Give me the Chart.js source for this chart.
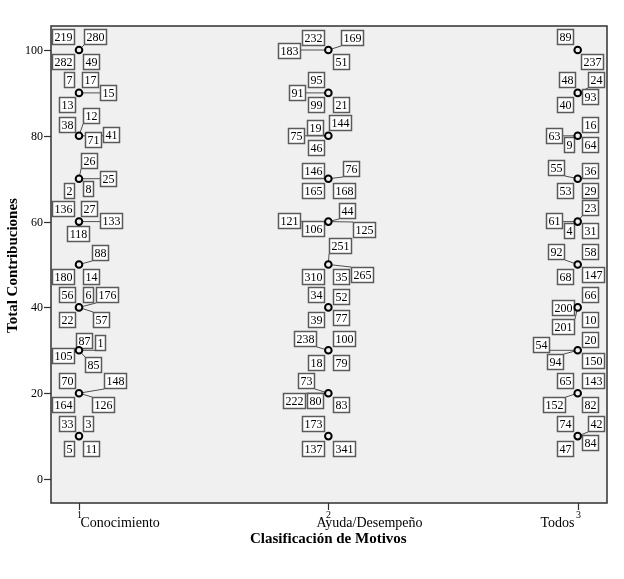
<!DOCTYPE html>
<html><head><meta charset="utf-8">
<script src="https://cdn.jsdelivr.net/npm/chart.js@4/dist/chart.umd.min.js"></script>
<style>html,body{margin:0;padding:0;background:#fff}canvas{display:block}</style>
</head><body>
<canvas id="c" width="624" height="579"></canvas>
<script>
// ---------- DATA ----------
const categories = ['Conocimiento', 'Ayuda/Desempeño', 'Todos'];
const categoryCodes = [1, 2, 3];
const yTickValues = [0, 20, 40, 60, 80, 100];
const xTitle = 'Clasificación de Motivos';
const yTitle = 'Total Contribuciones';

const conocimientoValues = [100, 90, 80, 70, 60, 50, 40, 30, 20, 10];
const ayudaValues = [100, 90, 80, 70, 60, 50, 40, 30, 20, 10];
const todosValues = [100, 90, 80, 70, 60, 50, 40, 30, 20, 10];

const conocimientoCases = [
  ['219', '280', '282', '49'],
  ['7', '17', '15', '13'],
  ['12', '38', '41', '71'],
  ['26', '25', '8', '2'],
  ['136', '27', '133', '118'],
  ['88', '180', '14'],
  ['56', '6', '176', '22', '57'],
  ['87', '1', '105', '85'],
  ['70', '148', '164', '126'],
  ['33', '3', '5', '11']
];
const ayudaCases = [
  ['232', '183', '169', '51'],
  ['95', '91', '99', '21'],
  ['144', '19', '75', '46'],
  ['146', '76', '165', '168'],
  ['44', '121', '106', '125'],
  ['251', '310', '35', '265'],
  ['34', '52', '39', '77'],
  ['238', '100', '18', '79'],
  ['73', '222', '80', '83'],
  ['173', '137', '341']
];
const todosCases = [
  ['89', '237'],
  ['48', '24', '93', '40'],
  ['16', '63', '9', '64'],
  ['55', '36', '53', '29'],
  ['23', '61', '4', '31'],
  ['92', '58', '68', '147'],
  ['66', '200', '10', '201'],
  ['20', '54', '94', '150'],
  ['65', '143', '152', '82'],
  ['74', '42', '84', '47']
];

// ---------- LAYOUT (label box offsets from their point, px) ----------
const labelOffsets = {
  '219':[-15.5,-12.5],'280':[16,-12.5],'282':[-15.5,12],'49':[12,12],
  '7':[-9.5,-13],'17':[11,-13],'15':[29,0],'13':[-12,12],
  '12':[12,-20],'38':[-12,-11],'41':[32,-1],'71':[14,4],
  '26':[10,-17.5],'25':[29,0],'8':[9,10.5],'2':[-9.5,12],
  '136':[-15.5,-12.5],'27':[10,-12.5],'133':[32,-0.5],'118':[-1,12],
  '88':[21,-11.5],'180':[-15.5,13],'14':[12,13],
  '56':[-12,-12],'6':[9,-12],'176':[28,-12],'22':[-12,13],'57':[22,13],
  '87':[5.5,-9],'1':[21,-7],'105':[-15.5,6],'85':[14,14.5],
  '70':[-12,-12],'148':[36.5,-12],'164':[-15.5,12],'126':[24,12],
  '33':[-12,-12],'3':[9,-12],'5':[-9.5,13],'11':[12,13],

  '232':[-15,-12],'183':[-39,1],'169':[24,-12],'51':[13,12],
  '95':[-12,-12.5],'91':[-31,0],'99':[-12,12],'21':[13,12],
  '144':[12.5,-12.5],'19':[-13,-8],'75':[-31.5,0],'46':[-12,12],
  '146':[-15,-8],'76':[23,-10],'165':[-14.5,12],'168':[16,12],
  '44':[19,-11],'121':[-39,-0.5],'106':[-15,7],'125':[36.5,8],
  '251':[12.5,-18],'310':[-14.5,13],'35':[13,13],'265':[34,10.5],
  '34':[-12,-12],'52':[13,-10],'39':[-12,13],'77':[13,11],
  '238':[-23,-11],'100':[16,-11.5],'18':[-12,13],'79':[13,13],
  '73':[-22,-12],'222':[-34,7.5],'80':[-13,7.5],'83':[13,12],
  '173':[-15,-12],'137':[-15,13],'341':[16,13],

  '89':[-12.5,-13],'237':[15,12],
  '48':[-10.5,-13],'24':[18.5,-13],'93':[12.5,4],'40':[-12.5,12],
  '16':[12.5,-11],'63':[-23.5,0],'9':[-8.5,9],'64':[12.5,9],
  '55':[-21.5,-11],'36':[12.5,-8],'53':[-12.5,12],'29':[12.5,12],
  '23':[12.5,-14],'61':[-23.5,-0.5],'4':[-8.5,9],'31':[12.5,9],
  '92':[-21.5,-12],'58':[12.5,-12],'68':[-12.5,13],'147':[15.5,10.5],
  '66':[12.5,-12],'200':[-14.5,0.5],'10':[12.5,13],'201':[-14.5,20],
  '20':[12.5,-10],'54':[-36.5,-5],'94':[-22.5,12],'150':[15.5,10.5],
  '65':[-12.5,-12],'143':[15.5,-12],'152':[-23,12],'82':[12.5,12],
  '74':[-12.5,-12],'42':[18.5,-12],'84':[12.5,6.5],'47':[-12.5,13]
};

const allValues = [conocimientoValues, ayudaValues, todosValues];
const allCases = [conocimientoCases, ayudaCases, todosCases];

const points = [];
allValues.forEach((vals, ci) => {
  vals.forEach((v, j) => points.push({x: categoryCodes[ci], y: v, cases: allCases[ci][j]}));
});

const SERIF = '"Liberation Serif", "Times New Roman", serif';

const decorPlugin = {
  id: 'decor',
  beforeDraw(chart) {
    const ctx = chart.ctx, a = chart.chartArea;
    ctx.save();
    ctx.fillStyle = '#ffffff';
    ctx.fillRect(0, 0, chart.width, chart.height);
    ctx.fillStyle = '#f0f0f0';
    ctx.fillRect(a.left, a.top, a.right - a.left, a.bottom - a.top);
    ctx.restore();
  },
  beforeDatasetsDraw(chart) {
    const ctx = chart.ctx, a = chart.chartArea;
    const meta = chart.getDatasetMeta(0);
    ctx.save();
    ctx.beginPath();
    ctx.rect(a.left, a.top, a.right - a.left, a.bottom - a.top);
    ctx.clip();
    ctx.font = '12px ' + SERIF;
    const boxes = [];
    meta.data.forEach((el, i) => {
      const px = el.x, py = el.y;
      points[i].cases.forEach(c => {
        const off = labelOffsets[c] || [12, -12];
        const w = Math.round(ctx.measureText(c).width) + 5;
        const h = 16;
        const cx = px + off[0], cy = py + off[1];
        const x0 = Math.round(cx - w / 2), y0 = Math.round(cy - h / 2);
        boxes.push({c, x0, y0, w, h, px, py});
      });
    });
    // leader lines
    ctx.strokeStyle = '#505050';
    ctx.lineWidth = 1;
    boxes.forEach(b => {
      const nx = Math.max(b.x0, Math.min(b.px, b.x0 + b.w));
      const ny = Math.max(b.y0, Math.min(b.py, b.y0 + b.h));
      const d = Math.hypot(nx - b.px, ny - b.py);
      if (d > 7) {
        ctx.beginPath();
        ctx.moveTo(b.px, b.py);
        ctx.lineTo(nx, ny);
        ctx.stroke();
      }
    });
    // boxes
    boxes.forEach(b => {
      ctx.fillStyle = '#ffffff';
      ctx.fillRect(b.x0, b.y0, b.w, b.h);
      ctx.strokeStyle = '#5a5a5a';
      ctx.lineWidth = 1.5;
      ctx.strokeRect(b.x0 + 0.5, b.y0 + 0.5, b.w - 1, b.h - 1);
      ctx.fillStyle = '#000';
      ctx.textAlign = 'center';
      ctx.textBaseline = 'middle';
      ctx.fillText(b.c, b.x0 + b.w / 2, b.y0 + b.h / 2 + 1);
    });
    ctx.restore();
  },
  afterDraw(chart) {
    const ctx = chart.ctx, a = chart.chartArea;
    const xs = chart.scales.x, ys = chart.scales.y;
    ctx.save();
    ctx.strokeStyle = '#303030';
    ctx.lineWidth = 1.5;
    ctx.strokeRect(a.left, a.top, a.right - a.left, a.bottom - a.top);
    // y ticks
    ctx.lineWidth = 1.2;
    ctx.fillStyle = '#000';
    ctx.font = '12px ' + SERIF;
    ctx.textAlign = 'right';
    ctx.textBaseline = 'middle';
    yTickValues.forEach(v => {
      const y = Math.round(ys.getPixelForValue(v)) + 0.5;
      ctx.beginPath();
      ctx.moveTo(a.left - 7, y);
      ctx.lineTo(a.left, y);
      ctx.stroke();
      ctx.fillText(String(v), a.left - 8, y + 0.5);
    });
    // x ticks
    categoryCodes.forEach((code, i) => {
      const x = Math.round(xs.getPixelForValue(code)) + 0.5;
      ctx.beginPath();
      ctx.moveTo(x, a.bottom);
      ctx.lineTo(x, a.bottom + 7);
      ctx.stroke();
      ctx.font = '10px ' + SERIF;
      ctx.textAlign = 'center';
      ctx.textBaseline = 'alphabetic';
      ctx.fillText(String(code), x, a.bottom + 15);
      ctx.font = '14px ' + SERIF;
      if (i === 0) { ctx.textAlign = 'left'; ctx.fillText(categories[i], x + 1, a.bottom + 24); }
      else if (i === 1) { ctx.textAlign = 'left'; ctx.fillText(categories[i], x - 12, a.bottom + 24); }
      else { ctx.textAlign = 'right'; ctx.fillText(categories[i], x - 4, a.bottom + 24); }
    });
    // titles
    ctx.font = 'bold 15px ' + SERIF;
    ctx.textAlign = 'center';
    ctx.textBaseline = 'alphabetic';
    ctx.fillText(xTitle, (xs.getPixelForValue(2)), a.bottom + 40);
    ctx.save();
    ctx.translate(17, (a.top + a.bottom) / 2 + 1);
    ctx.rotate(-Math.PI / 2);
    ctx.fillText(yTitle, 0, 0);
    ctx.restore();
    ctx.restore();
  }
};

new Chart(document.getElementById('c'), {
  type: 'scatter',
  data: {
    datasets: [{
      data: points,
      pointRadius: 3.3,
      pointBorderWidth: 2,
      borderColor: '#000',
      backgroundColor: '#f0f0f0',
      pointStyle: 'circle'
    }]
  },
  options: {
    responsive: false,
    animation: false,
    events: [],
    layout: { padding: { left: 51, top: 26, right: 17, bottom: 76 } },
    plugins: { legend: { display: false }, tooltip: { enabled: false } },
    scales: {
      x: { type: 'linear', display: false, min: 0.8877, max: 3.1175 },
      y: { type: 'linear', display: false, min: -5.594, max: 105.594 }
    }
  },
  plugins: [decorPlugin]
});
</script>
</body></html>
